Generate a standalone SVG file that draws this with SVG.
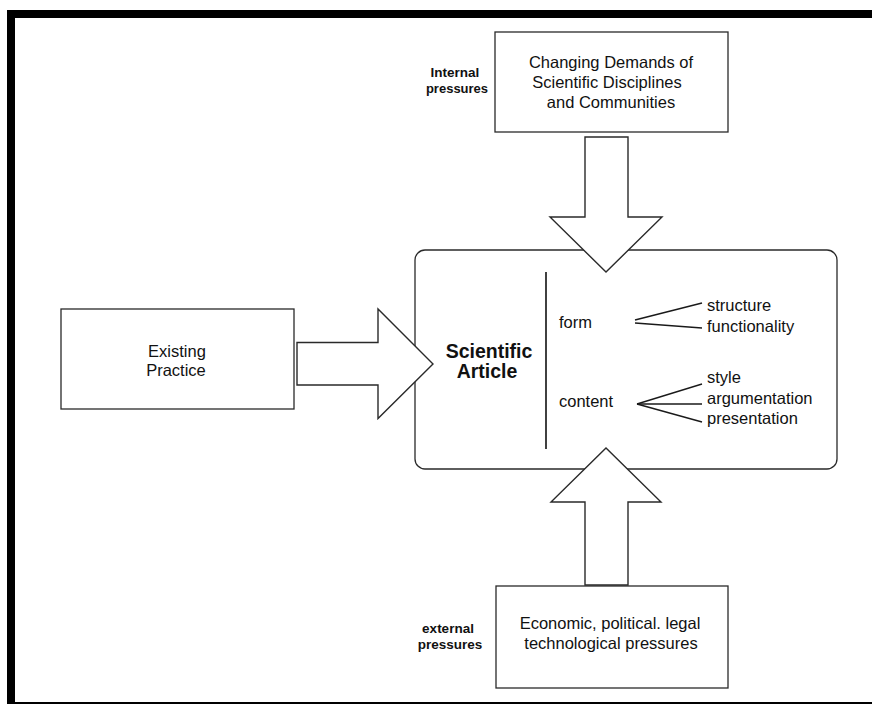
<svg xmlns="http://www.w3.org/2000/svg" width="872" height="704" viewBox="0 0 872 704">
  <style>
    .box { fill: #fff; stroke: #2a2a2a; stroke-width: 1.3; }
    .arrow { fill: #fff; stroke: #2a2a2a; stroke-width: 1.4; stroke-linejoin: miter; }
    .branch { stroke: #1a1a1a; stroke-width: 1.4; fill: none; }
    .t { font-family: "Liberation Sans", Arial, sans-serif; font-size: 16.5px; fill: #111; }
    .c { text-anchor: middle; }
    .lbl { font-family: "Liberation Sans", Arial, sans-serif; font-weight: bold; fill: #111; text-anchor: middle; }
    .title { font-family: "Liberation Sans", Arial, sans-serif; font-weight: bold; font-size: 19.5px; fill: #111; text-anchor: middle; }
  </style>

  <!-- page background and frame -->
  <rect x="0" y="0" width="872" height="704" fill="#fff"/>
  <rect x="7" y="10" width="865" height="8" fill="#000"/>
  <rect x="7" y="10" width="8" height="694" fill="#000"/>
  <rect x="7" y="702" width="865" height="2" fill="#000"/>

  <!-- central node: the scientific article -->
  <g id="scientific-article">
    <rect class="box" x="415" y="250" width="422" height="219" rx="10" ry="10"/>
    <line x1="546" y1="272" x2="546" y2="449" stroke="#111" stroke-width="1.6"/>
    <text class="title" x="489" y="358">Scientific</text>
    <text class="title" x="487" y="378">Article</text>
    <text class="t" x="559" y="328">form</text>
    <text class="t" x="559" y="407">content</text>
    <g class="branch">
      <line x1="635" y1="320" x2="702" y2="303"/>
      <line x1="635" y1="323" x2="702" y2="328"/>
      <line x1="637" y1="404" x2="702" y2="384"/>
      <line x1="637" y1="404" x2="702" y2="404"/>
      <line x1="637" y1="404" x2="702" y2="422"/>
    </g>
    <text class="t" x="707" y="311">structure</text>
    <text class="t" x="707" y="332">functionality</text>
    <text class="t" x="707" y="383">style</text>
    <text class="t" x="707" y="404">argumentation</text>
    <text class="t" x="707" y="424">presentation</text>
  </g>

  <!-- block arrows feeding the article -->
  <g id="connectors">
    <path class="arrow" d="M585,137 L628,137 L628,217 L662,217 L606,272 L550,217 L585,217 Z"/>
    <path class="arrow" d="M297,342.5 L378,342.5 L378,309 L433,364 L378,418.5 L378,385 L297,385 Z"/>
    <path class="arrow" d="M585,585 L585,502 L551,502 L606,448 L661,502 L628,502 L628,585 Z"/>
  </g>

  <g id="internal-demands">
    <rect class="box" x="495" y="32" width="233" height="100"/>
    <text class="t c" x="611" y="68">Changing Demands of</text>
    <text class="t c" x="607" y="88">Scientific Disciplines</text>
    <text class="t c" x="611" y="108">and Communities</text>
  </g>
  <g id="internal-label">
    <text class="lbl" x="455" y="77" font-size="13.5">Internal</text>
    <text class="lbl" x="457" y="93" font-size="13">pressures</text>
  </g>

  <g id="existing-practice">
    <rect class="box" x="61" y="309" width="233" height="100"/>
    <text class="t c" x="177" y="357">Existing</text>
    <text class="t c" x="176" y="376">Practice</text>
  </g>

  <g id="external-pressures">
    <rect class="box" x="496" y="586" width="232" height="102"/>
    <text class="t c" x="610" y="629">Economic, political. legal</text>
    <text class="t c" x="611" y="649">technological pressures</text>
  </g>
  <g id="external-label">
    <text class="lbl" x="448" y="633" font-size="13.5">external</text>
    <text class="lbl" x="450" y="649" font-size="13.5">pressures</text>
  </g>
</svg>
